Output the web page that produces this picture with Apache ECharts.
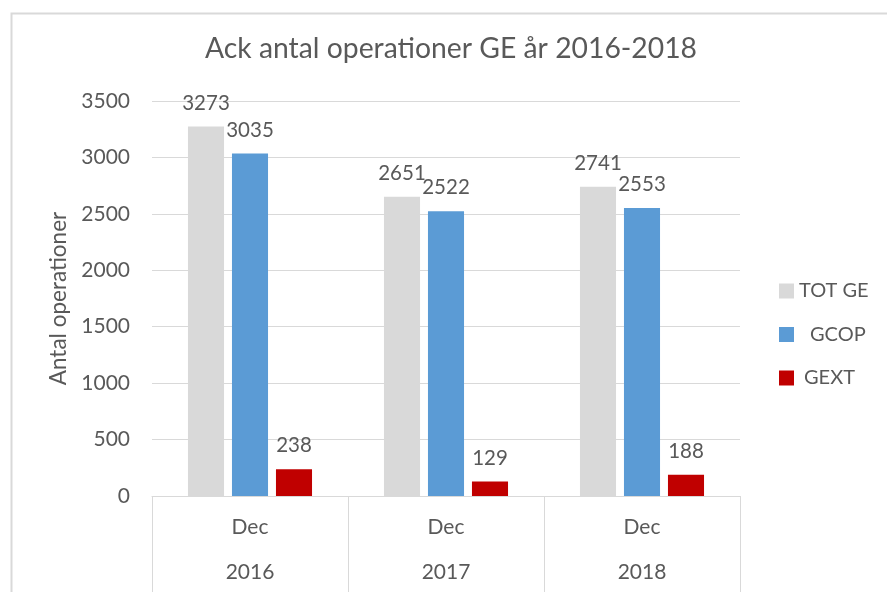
<!DOCTYPE html>
<html>
<head>
<meta charset="utf-8">
<script src="https://cdn.jsdelivr.net/npm/echarts@6/dist/echarts.min.js"></script>
<style>
html,body{margin:0;padding:0;background:#fff;}
#c{width:887px;height:592px;}
</style>
</head>
<body>
<div id="c"></div>
<script>
const titleText = 'Ack antal operationer GE år 2016-2018';
const months = ['Dec', 'Dec', 'Dec'];
const years = ['2016', '2017', '2018'];
const seriesNames = ['TOT GE', 'GCOP', 'GEXT'];
const totGE = [3273, 2651, 2741];
const gcop = [3035, 2522, 2553];
const gext = [238, 129, 188];
const yTicks = [0, 500, 1000, 1500, 2000, 2500, 3000, 3500];
const yAxisTitle = 'Antal operationer';

const FONT = 'Lato';
const TXT = '#595959';
const GRID = '#d9d9d9';
const colors = ['#d9d9d9', '#5b9bd5', '#c00000'];

const chart = echarts.init(document.getElementById('c'));
const mkSeries = (name, data, color) => ({
  name: name,
  type: 'bar',
  data: data,
  barWidth: '18.4%',
  barGap: '22%',
  itemStyle: { color: color },
  label: {
    show: true,
    position: 'top',
    distance: 13,
    color: TXT,
    fontFamily: FONT,
    fontSize: 20.5
  }
});
chart.setOption({
  animation: false,
  backgroundColor: '#fff',
  textStyle: { fontFamily: FONT },
  graphic: [{
    type: 'rect',
    left: 9, top: 11,
    shape: { width: 1000, height: 700 },
    style: { fill: 'none', stroke: '#d9d9d9', lineWidth: 2 },
    silent: true,
    z: -10
  }],
  title: {
    text: titleText,
    left: 451,
    textAlign: 'center',
    top: 35,
    padding: 0,
    textStyle: { fontFamily: FONT, fontSize: 28.3, fontWeight: 'normal', color: TXT }
  },
  legend: {
    orient: 'vertical',
    left: 779,
    top: 281,
    padding: 0,
    itemWidth: 15,
    itemHeight: 15,
    itemGap: 23.5,
    icon: 'rect',
    data: seriesNames,
    formatter: function (name) {
      const key = name === 'GCOP' ? 'b' : (name === 'GEXT' ? 'c' : 'a');
      return '{' + key + '|' + name + '}';
    },
    textStyle: {
      color: TXT,
      fontFamily: FONT,
      fontSize: 20,
      lineHeight: 20,
      rich: {
        a: { fontSize: 20, fontFamily: FONT, color: TXT, lineHeight: 20 },
        b: { fontSize: 20, fontFamily: FONT, color: TXT, lineHeight: 20, padding: [0, 0, 0, 11] },
        c: { fontSize: 20, fontFamily: FONT, color: TXT, lineHeight: 20, padding: [0, 0, 0, 5] }
      }
    }
  },
  grid: { left: 152, right: 147, top: 101, bottom: 96 },
  xAxis: [{
    type: 'category',
    data: months,
    position: 'bottom',
    axisLine: { lineStyle: { color: GRID, width: 1 } },
    axisTick: { show: true, length: 96, interval: 0, lineStyle: { color: GRID } },
    axisLabel: { color: TXT, fontFamily: FONT, fontSize: 21, margin: 21, interval: 0 }
  }, {
    type: 'category',
    data: years,
    position: 'bottom',
    axisLine: { show: false },
    axisTick: { show: false },
    axisLabel: { color: TXT, fontFamily: FONT, fontSize: 21, margin: 66, interval: 0 }
  }],
  yAxis: {
    type: 'value',
    min: yTicks[0],
    max: yTicks[yTicks.length - 1],
    interval: yTicks[1] - yTicks[0],
    name: yAxisTitle,
    nameLocation: 'middle',
    nameGap: 78,
    nameTextStyle: { color: TXT, fontFamily: FONT, fontSize: 22.5 },
    axisLine: { show: false },
    axisTick: { show: false },
    axisLabel: { color: TXT, fontFamily: FONT, fontSize: 21, margin: 22, formatter: function (v) { return String(v); } },
    splitLine: { lineStyle: { color: GRID, width: 1 } }
  },
  series: [
    mkSeries(seriesNames[0], totGE, colors[0]),
    mkSeries(seriesNames[1], gcop, colors[1]),
    mkSeries(seriesNames[2], gext, colors[2])
  ]
});
</script>
</body>
</html>
